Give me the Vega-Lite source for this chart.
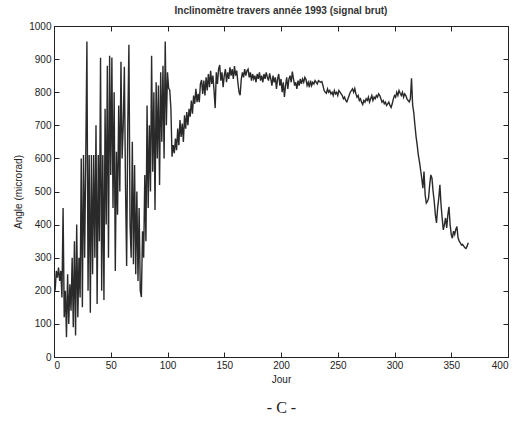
{
  "$schema": "https://vega.github.io/schema/vega-lite/v6.json",
  "width": 454,
  "height": 331,
  "autosize": {"type": "none"},
  "padding": {"left": 54, "top": 26, "right": 13, "bottom": 68},
  "background": "white",
  "title": {"text": "Inclinomètre travers année 1993 (signal brut)", "font": "Liberation Sans", "fontSize": 10, "fontWeight": "bold", "color": "#333", "offset": 5},
  "config": {
    "view": {"stroke": "#222", "strokeWidth": 1},
    "axis": {"labelFont": "Liberation Sans", "titleFont": "Liberation Sans", "labelFontSize": 10, "titleFontSize": 10, "titleFontWeight": "normal", "labelColor": "#222", "titleColor": "#222", "grid": false, "domainColor": "#222", "tickColor": "#222", "tickSize": -5, "labelPadding": 8, "format": "d"}
  },
  "data": {"values": [
{"d":0,"v":250},{"d":1,"v":200},{"d":2,"v":260},{"d":3,"v":240},{"d":4,"v":270},{"d":5,"v":230},{"d":6,"v":260},{"d":7,"v":180},{"d":8,"v":450},{"d":9,"v":120},
{"d":10,"v":200},{"d":11,"v":60},{"d":12,"v":250},{"d":13,"v":100},{"d":14,"v":220},{"d":15,"v":140},{"d":16,"v":300},{"d":17,"v":90},{"d":18,"v":350},{"d":19,"v":65},
{"d":20,"v":400},{"d":21,"v":120},{"d":22,"v":300},{"d":23,"v":180},{"d":24,"v":600},{"d":25,"v":150},{"d":26,"v":610},{"d":27,"v":300},{"d":28,"v":610},{"d":29,"v":953},
{"d":30,"v":200},{"d":31,"v":610},{"d":32,"v":134},{"d":33,"v":610},{"d":34,"v":250},{"d":35,"v":610},{"d":36,"v":300},{"d":37,"v":700},{"d":38,"v":160},{"d":39,"v":610},
{"d":40,"v":350},{"d":41,"v":904},{"d":42,"v":200},{"d":43,"v":610},{"d":44,"v":172},{"d":45,"v":750},{"d":46,"v":400},{"d":47,"v":880},{"d":48,"v":300},{"d":49,"v":910},
{"d":50,"v":550},{"d":51,"v":905},{"d":52,"v":450},{"d":53,"v":800},{"d":54,"v":260},{"d":55,"v":620},{"d":56,"v":430},{"d":57,"v":760},{"d":58,"v":500},{"d":59,"v":892},
{"d":60,"v":600},{"d":61,"v":700},{"d":62,"v":877},{"d":63,"v":520},{"d":64,"v":275},{"d":65,"v":700},{"d":66,"v":943},{"d":67,"v":400},{"d":68,"v":300},{"d":69,"v":650},
{"d":70,"v":280},{"d":71,"v":580},{"d":72,"v":250},{"d":73,"v":500},{"d":74,"v":230},{"d":75,"v":450},{"d":76,"v":200},{"d":77,"v":181},{"d":78,"v":380},{"d":79,"v":300},
{"d":80,"v":550},{"d":81,"v":350},{"d":82,"v":760},{"d":83,"v":450},{"d":84,"v":700},{"d":85,"v":500},{"d":86,"v":910},{"d":87,"v":560},{"d":88,"v":800},{"d":89,"v":444},
{"d":90,"v":830},{"d":91,"v":600},{"d":92,"v":820},{"d":93,"v":520},{"d":94,"v":860},{"d":95,"v":650},{"d":96,"v":880},{"d":97,"v":600},{"d":98,"v":953},{"d":99,"v":700},
{"d":100,"v":860},{"d":101,"v":812},{"d":102,"v":806},{"d":103,"v":750},{"d":104,"v":605},{"d":105,"v":640},{"d":106,"v":616},{"d":107,"v":660},{"d":108,"v":625},{"d":109,"v":690},
{"d":110,"v":640},{"d":111,"v":716},{"d":112,"v":665},{"d":113,"v":705},{"d":114,"v":650},{"d":115,"v":730},{"d":116,"v":690},{"d":117,"v":740},{"d":118,"v":700},{"d":119,"v":750},
{"d":120,"v":726},{"d":121,"v":775},{"d":122,"v":735},{"d":123,"v":790},{"d":124,"v":765},{"d":125,"v":810},{"d":126,"v":770},{"d":127,"v":795},{"d":128,"v":770},{"d":129,"v":825},
{"d":130,"v":837},{"d":131,"v":795},{"d":132,"v":835},{"d":133,"v":790},{"d":134,"v":845},{"d":135,"v":805},{"d":136,"v":855},{"d":137,"v":815},{"d":138,"v":865},{"d":139,"v":825},
{"d":140,"v":850},{"d":141,"v":805},{"d":142,"v":752},{"d":143,"v":860},{"d":144,"v":825},{"d":145,"v":870},{"d":146,"v":882},{"d":147,"v":835},{"d":148,"v":860},{"d":149,"v":815},
{"d":150,"v":850},{"d":151,"v":870},{"d":152,"v":830},{"d":153,"v":860},{"d":154,"v":840},{"d":155,"v":875},{"d":156,"v":850},{"d":157,"v":870},{"d":158,"v":840},{"d":159,"v":879},
{"d":160,"v":850},{"d":161,"v":865},{"d":162,"v":830},{"d":163,"v":800},{"d":164,"v":791},{"d":165,"v":840},{"d":166,"v":860},{"d":167,"v":845},{"d":168,"v":870},{"d":169,"v":850},
{"d":170,"v":865},{"d":171,"v":870},{"d":172,"v":845},{"d":173,"v":860},{"d":174,"v":835},{"d":175,"v":855},{"d":176,"v":840},{"d":177,"v":850},{"d":178,"v":830},{"d":179,"v":855},
{"d":180,"v":840},{"d":181,"v":860},{"d":182,"v":835},{"d":183,"v":850},{"d":184,"v":830},{"d":185,"v":855},{"d":186,"v":840},{"d":187,"v":860},{"d":188,"v":845},{"d":189,"v":835},
{"d":190,"v":857},{"d":191,"v":840},{"d":192,"v":820},{"d":193,"v":850},{"d":194,"v":830},{"d":195,"v":845},{"d":196,"v":810},{"d":197,"v":840},{"d":198,"v":855},{"d":199,"v":820},
{"d":200,"v":840},{"d":201,"v":800},{"d":202,"v":830},{"d":203,"v":786},{"d":204,"v":820},{"d":205,"v":845},{"d":206,"v":810},{"d":207,"v":840},{"d":208,"v":850},{"d":209,"v":830},
{"d":210,"v":862},{"d":211,"v":840},{"d":212,"v":820},{"d":213,"v":830},{"d":214,"v":810},{"d":215,"v":835},{"d":216,"v":820},{"d":217,"v":840},{"d":218,"v":825},{"d":219,"v":840},
{"d":220,"v":830},{"d":221,"v":845},{"d":222,"v":839},{"d":223,"v":820},{"d":224,"v":830},{"d":225,"v":815},{"d":226,"v":835},{"d":227,"v":820},{"d":228,"v":830},{"d":229,"v":825},
{"d":230,"v":835},{"d":231,"v":830},{"d":232,"v":825},{"d":233,"v":835},{"d":234,"v":832},{"d":235,"v":830},{"d":236,"v":832},{"d":237,"v":820},{"d":238,"v":805},{"d":239,"v":800},
{"d":240,"v":797},{"d":241,"v":810},{"d":242,"v":800},{"d":243,"v":805},{"d":244,"v":795},{"d":245,"v":800},{"d":246,"v":790},{"d":247,"v":805},{"d":248,"v":795},{"d":249,"v":800},
{"d":250,"v":790},{"d":251,"v":805},{"d":252,"v":800},{"d":253,"v":795},{"d":254,"v":790},{"d":255,"v":780},{"d":256,"v":785},{"d":257,"v":775},{"d":258,"v":771},{"d":259,"v":780},
{"d":260,"v":790},{"d":261,"v":800},{"d":262,"v":805},{"d":263,"v":810},{"d":264,"v":800},{"d":265,"v":811},{"d":266,"v":795},{"d":267,"v":785},{"d":268,"v":790},{"d":269,"v":775},
{"d":270,"v":780},{"d":271,"v":770},{"d":272,"v":763},{"d":273,"v":775},{"d":274,"v":770},{"d":275,"v":780},{"d":276,"v":775},{"d":277,"v":785},{"d":278,"v":770},{"d":279,"v":780},
{"d":280,"v":790},{"d":281,"v":775},{"d":282,"v":785},{"d":283,"v":780},{"d":284,"v":790},{"d":285,"v":785},{"d":286,"v":795},{"d":287,"v":790},{"d":288,"v":780},{"d":289,"v":770},
{"d":290,"v":775},{"d":291,"v":765},{"d":292,"v":770},{"d":293,"v":760},{"d":294,"v":765},{"d":295,"v":770},{"d":296,"v":760},{"d":297,"v":754},{"d":298,"v":765},{"d":299,"v":780},
{"d":300,"v":790},{"d":301,"v":785},{"d":302,"v":800},{"d":303,"v":790},{"d":304,"v":805},{"d":305,"v":797},{"d":306,"v":790},{"d":307,"v":800},{"d":308,"v":785},{"d":309,"v":795},
{"d":310,"v":790},{"d":311,"v":780},{"d":312,"v":775},{"d":313,"v":771},{"d":314,"v":780},{"d":315,"v":842},{"d":316,"v":760},{"d":317,"v":738},{"d":318,"v":700},{"d":319,"v":666},
{"d":320,"v":640},{"d":321,"v":610},{"d":322,"v":590},{"d":323,"v":565},{"d":324,"v":540},{"d":325,"v":510},{"d":326,"v":560},{"d":327,"v":490},{"d":328,"v":465},{"d":329,"v":470},
{"d":330,"v":480},{"d":331,"v":520},{"d":332,"v":550},{"d":333,"v":540},{"d":334,"v":500},{"d":335,"v":470},{"d":336,"v":430},{"d":337,"v":405},{"d":338,"v":450},{"d":339,"v":480},
{"d":340,"v":520},{"d":341,"v":460},{"d":342,"v":420},{"d":343,"v":384},{"d":344,"v":400},{"d":345,"v":420},{"d":346,"v":390},{"d":347,"v":430},{"d":348,"v":454},{"d":349,"v":400},
{"d":350,"v":370},{"d":351,"v":359},{"d":352,"v":380},{"d":353,"v":370},{"d":354,"v":385},{"d":355,"v":394},{"d":356,"v":360},{"d":357,"v":350},{"d":358,"v":345},{"d":359,"v":338},
{"d":360,"v":340},{"d":361,"v":335},{"d":362,"v":330},{"d":363,"v":328},{"d":364,"v":335},{"d":365,"v":345}
  ]},
  "layer": [
    {
      "mark": {"type": "line", "color": "#2a2a2a", "strokeWidth": 1.4, "clip": true},
      "encoding": {
        "x": {"field": "d", "type": "quantitative", "scale": {"domain": [0, 400], "nice": false}, "axis": {"title": "Jour", "values": [0,50,100,150,200,250,300,350,400], "titlePadding": 4}},
        "y": {"field": "v", "type": "quantitative", "scale": {"domain": [0, 1000], "nice": false}, "axis": {"title": "Angle (microrad)", "values": [0,100,200,300,400,500,600,700,800,900,1000], "titlePadding": 5}}
      }
    },
    {
      "mark": {"type": "line", "opacity": 0},
      "encoding": {
        "x": {"field": "d", "type": "quantitative", "scale": {"domain": [0, 400], "nice": false}, "axis": {"orient": "top", "title": null, "labels": false, "values": [0,50,100,150,200,250,300,350,400]}},
        "y": {"field": "v", "type": "quantitative", "scale": {"domain": [0, 1000], "nice": false}, "axis": {"orient": "right", "title": null, "labels": false, "values": [0,100,200,300,400,500,600,700,800,900,1000]}}
      }
    },
    {
      "mark": {"type": "line", "opacity": 0},
      "encoding": {
        "x": {"field": "d", "type": "quantitative", "scale": {"domain": [0, 400], "nice": false}, "axis": {"orient": "bottom", "title": "- C -", "titleFont": "Liberation Serif", "titleFontSize": 16, "labels": false, "ticks": false, "domain": false, "offset": 42, "titlePadding": 0}},
        "y": {"field": "v", "type": "quantitative", "scale": {"domain": [0, 1000], "nice": false}, "axis": null}
      }
    }
  ],
  "resolve": {"axis": {"x": "independent", "y": "independent"}}
}
